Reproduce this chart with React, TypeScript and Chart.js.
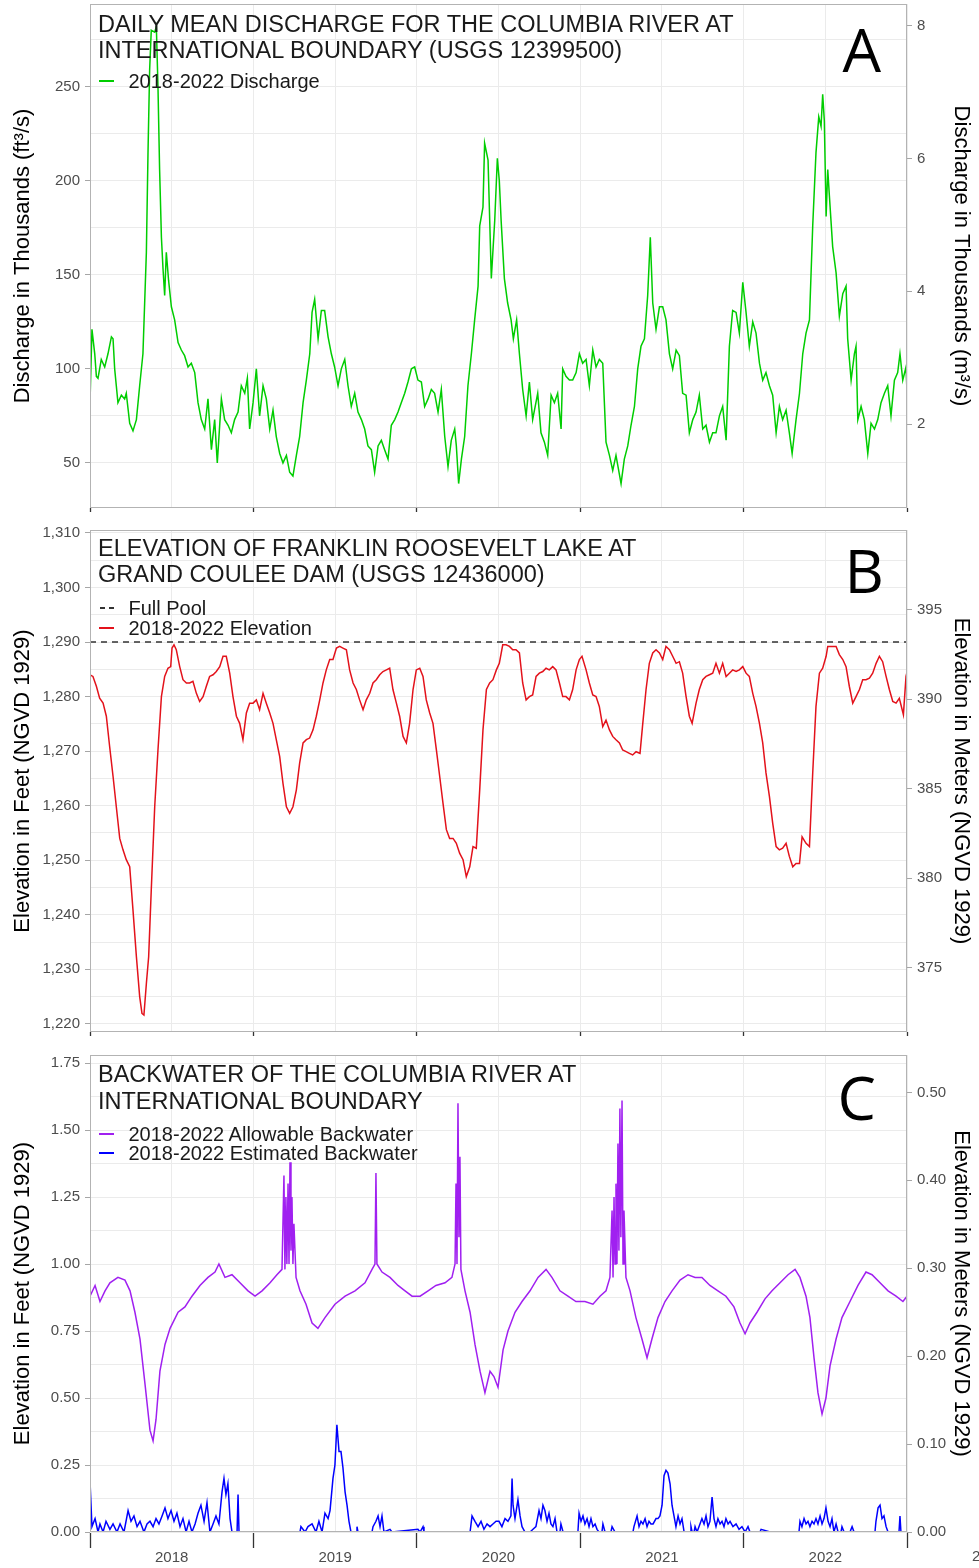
import React, { useEffect, useRef } from "react";
import { Chart, registerables } from "chart.js";

Chart.register(...registerables);

const FONT = '"Liberation Sans", Arial, Helvetica, sans-serif';
const LETTER_FONT = '"Open Sans", "Liberation Sans", Arial, sans-serif';
const TICK_COLOR = "#4d4d4d";
const GRID_COLOR = "#ebebeb";
const BORDER_COLOR = "#b3b3b3";
const AXIS_TICK_COLOR = "#a6a6a6";
const TEXT_COLOR = "#1a1a1a";

const W = 979;
const X_MIN = 2018;
const X_MAX = 2023;
const xGridValues = [2018, 2018.5, 2019, 2019.5, 2020, 2020.5, 2021, 2021.5, 2022, 2022.5, 2023];
const yearLabelPositions = [2018.5, 2019.5, 2020.5, 2021.5, 2022.5];
const yearLabels = ["2018", "2019", "2020", "2021", "2022"];
const clippedYearPosition = 2023.5;
const clippedYearLabel = "2023";

const CFS_TO_CMS = 0.0283168;
const FT_TO_M = 0.3048;

// ---------- Panel A: daily mean discharge (thousand ft3/s) ----------
const dischargeYears = [
  2018.000, 2018.012, 2018.029, 2018.039, 2018.049, 2018.069, 2018.090, 2018.110, 2018.131, 2018.141,
  2018.151, 2018.161, 2018.171, 2018.192, 2018.212, 2018.222, 2018.243, 2018.263, 2018.284, 2018.304,
  2018.324, 2018.345, 2018.355, 2018.365, 2018.375, 2018.396, 2018.406, 2018.416, 2018.426, 2018.437,
  2018.447, 2018.457, 2018.467, 2018.481, 2018.498, 2018.518, 2018.539, 2018.559, 2018.579, 2018.600,
  2018.620, 2018.641, 2018.661, 2018.681, 2018.702, 2018.722, 2018.743, 2018.763, 2018.779, 2018.804,
  2018.824, 2018.845, 2018.865, 2018.885, 2018.906, 2018.926, 2018.947, 2018.963, 2018.977, 2018.998,
  2019.018, 2019.038, 2019.059, 2019.079, 2019.100, 2019.120, 2019.140, 2019.161, 2019.181, 2019.202,
  2019.222, 2019.242, 2019.263, 2019.283, 2019.304, 2019.324, 2019.345, 2019.359, 2019.375, 2019.396,
  2019.416, 2019.436, 2019.457, 2019.477, 2019.497, 2019.518, 2019.538, 2019.559, 2019.579, 2019.599,
  2019.620, 2019.640, 2019.661, 2019.681, 2019.701, 2019.722, 2019.742, 2019.763, 2019.783, 2019.803,
  2019.824, 2019.844, 2019.865, 2019.885, 2019.905, 2019.926, 2019.946, 2019.967, 2019.987,
  2020.007, 2020.028, 2020.048, 2020.069, 2020.089, 2020.109, 2020.130, 2020.150, 2020.171, 2020.191,
  2020.211, 2020.232, 2020.242, 2020.256, 2020.273, 2020.293, 2020.313, 2020.334, 2020.354, 2020.375,
  2020.385, 2020.405, 2020.415, 2020.436, 2020.456, 2020.477, 2020.493,
  2020.505, 2020.516, 2020.536, 2020.556, 2020.577, 2020.591, 2020.611, 2020.628, 2020.648, 2020.669,
  2020.689, 2020.709, 2020.740, 2020.760, 2020.781, 2020.801, 2020.822, 2020.842, 2020.862, 2020.883,
  2020.893, 2020.913, 2020.934, 2020.954, 2020.975, 2020.995,
  2021.015, 2021.036, 2021.056, 2021.077, 2021.097, 2021.117, 2021.138, 2021.158, 2021.179, 2021.199,
  2021.219, 2021.250, 2021.270, 2021.291, 2021.311, 2021.332, 2021.352, 2021.372, 2021.393, 2021.413,
  2021.429, 2021.444, 2021.464, 2021.485, 2021.505, 2021.525, 2021.546, 2021.566, 2021.587, 2021.607,
  2021.627, 2021.648, 2021.668, 2021.689, 2021.709, 2021.729, 2021.750, 2021.770, 2021.791, 2021.811,
  2021.831, 2021.852, 2021.872, 2021.893, 2021.913, 2021.933, 2021.954, 2021.974, 2021.995,
  2022.015, 2022.035, 2022.056, 2022.076, 2022.097, 2022.117, 2022.137, 2022.158, 2022.178, 2022.199,
  2022.219, 2022.239, 2022.260, 2022.280, 2022.297, 2022.321, 2022.342, 2022.362, 2022.382, 2022.403,
  2022.423, 2022.443, 2022.460, 2022.474, 2022.484, 2022.494, 2022.505, 2022.515, 2022.525, 2022.545,
  2022.566, 2022.586, 2022.607, 2022.627, 2022.637, 2022.658, 2022.678, 2022.688, 2022.699, 2022.719,
  2022.739, 2022.760, 2022.780, 2022.801, 2022.821, 2022.841, 2022.862, 2022.882, 2022.902, 2022.923,
  2022.943, 2022.957, 2022.974, 2022.994, 2023.000,
];
const dischargeKcfs = [
  82, 121, 108, 96, 95, 105, 101, 108, 117, 116,
  100, 91, 82, 86, 84, 87, 71, 67, 73, 91,
  108, 162, 215, 259, 280, 279, 282, 250, 206, 170,
  153, 139, 162, 147, 133, 126, 114, 110, 107, 101,
  103, 98, 82, 73, 68, 84, 57, 73, 50, 84,
  73, 70, 66, 73, 77, 91, 87, 95, 68, 82,
  100, 75, 91, 84, 68, 78, 64, 55, 50, 54,
  45, 43, 54, 64, 82, 94, 108, 130, 137, 116,
  131, 131, 117, 108, 101, 91, 100, 105, 91, 80,
  87, 77, 73, 68, 59, 57, 45, 59, 62, 57,
  52, 70, 73, 77, 82, 87, 93, 100, 101,
  94, 93, 80, 84, 89, 87, 77, 89, 64, 48,
  62, 68, 59, 39, 52, 64, 91, 108, 126, 144,
  176, 186, 220, 211, 148, 179, 212,
  200, 179, 148, 135, 126, 116, 126, 108, 89, 75,
  93, 73, 87, 66, 61, 54, 86, 82, 87, 68,
  100, 96, 94, 94, 98, 108,
  103, 105, 91, 110, 101, 105, 103, 61, 54, 46,
  54, 39, 52, 59, 70, 80, 100, 112, 116, 139,
  170, 135, 121, 133, 133, 126, 108, 100, 110, 107,
  87, 86, 66, 73, 77, 86, 68, 70, 61, 66,
  66, 75, 80, 62, 112, 131, 130, 119, 146,
  130, 112, 125, 119, 103, 94, 98, 91, 86, 66,
  80, 73, 78, 66, 55, 73, 87, 108, 119, 126,
  176, 215, 234, 229, 246, 232, 181, 206, 192, 165,
  151, 128, 140, 144, 116, 94, 108, 112, 73, 80,
  73, 55, 71, 68, 73, 82, 87, 91, 75, 94,
  98, 108, 94, 101, 88,
];

// ---------- Panel B: lake elevation (ft NGVD 1929) ----------
const fullPoolFt = 1290;
const elevationYears = [
  2018.000, 2018.018, 2018.039, 2018.059, 2018.080, 2018.100, 2018.120, 2018.141, 2018.161, 2018.182,
  2018.202, 2018.222, 2018.243, 2018.263, 2018.284, 2018.304, 2018.318, 2018.330, 2018.345, 2018.359,
  2018.375, 2018.396, 2018.416, 2018.437, 2018.457, 2018.477, 2018.494, 2018.502, 2018.514, 2018.528,
  2018.549, 2018.569, 2018.590, 2018.610, 2018.630, 2018.651, 2018.671, 2018.692, 2018.712, 2018.732,
  2018.753, 2018.773, 2018.794, 2018.814, 2018.834, 2018.855, 2018.875, 2018.896, 2018.916, 2018.936,
  2018.957, 2018.977, 2018.998, 2019.018, 2019.038, 2019.059, 2019.079, 2019.100, 2019.120, 2019.140,
  2019.161, 2019.181, 2019.202, 2019.222, 2019.242, 2019.263, 2019.283, 2019.304, 2019.324, 2019.344,
  2019.365, 2019.385, 2019.406, 2019.426, 2019.446, 2019.467, 2019.487, 2019.508, 2019.528, 2019.548,
  2019.569, 2019.589, 2019.610, 2019.630, 2019.650, 2019.671, 2019.691, 2019.712, 2019.732, 2019.752,
  2019.773, 2019.793, 2019.814, 2019.834, 2019.854, 2019.875, 2019.895, 2019.916, 2019.936, 2019.956,
  2019.977, 2019.997, 2020.018, 2020.038, 2020.058, 2020.079, 2020.099, 2020.120, 2020.140, 2020.160,
  2020.181, 2020.201, 2020.222, 2020.242, 2020.262, 2020.283, 2020.303, 2020.324, 2020.344, 2020.364,
  2020.385, 2020.405, 2020.426, 2020.446, 2020.466, 2020.487,
  2020.505, 2020.526, 2020.546, 2020.567, 2020.587, 2020.607, 2020.628, 2020.648, 2020.669, 2020.689,
  2020.709, 2020.730, 2020.750, 2020.771, 2020.791, 2020.811, 2020.832, 2020.852, 2020.873, 2020.893,
  2020.913, 2020.934, 2020.954, 2020.975, 2020.995, 2021.011, 2021.036, 2021.056, 2021.077, 2021.097,
  2021.117, 2021.138, 2021.158, 2021.179, 2021.199, 2021.219, 2021.240, 2021.260, 2021.281, 2021.301,
  2021.321, 2021.342, 2021.366, 2021.383, 2021.403, 2021.423, 2021.444, 2021.464, 2021.485, 2021.505,
  2021.525, 2021.546, 2021.566, 2021.587, 2021.607, 2021.627, 2021.648, 2021.668, 2021.685, 2021.709,
  2021.729, 2021.750, 2021.770, 2021.791, 2021.811, 2021.831, 2021.852, 2021.872, 2021.893, 2021.913,
  2021.933, 2021.954, 2021.974, 2021.995, 2022.015, 2022.035, 2022.056, 2022.076, 2022.097, 2022.117,
  2022.137, 2022.158, 2022.178, 2022.199, 2022.219, 2022.239, 2022.260, 2022.280, 2022.301, 2022.321,
  2022.342, 2022.358, 2022.382, 2022.403, 2022.423, 2022.443, 2022.464, 2022.484, 2022.505, 2022.515,
  2022.535, 2022.566, 2022.586, 2022.607, 2022.627, 2022.647, 2022.668, 2022.688, 2022.709, 2022.729,
  2022.749, 2022.770, 2022.790, 2022.811, 2022.831, 2022.851, 2022.872, 2022.892, 2022.913, 2022.933,
  2022.953, 2022.978, 2022.994, 2023.000,
];
const elevationFt = [
  1284.0, 1283.7, 1281.9, 1279.7, 1278.8, 1276.4, 1270.9, 1265.4, 1259.8, 1254.0,
  1251.9, 1250.1, 1248.8, 1240.9, 1232.3, 1225.0, 1221.9, 1221.6, 1227.4, 1232.3,
  1244.6, 1259.8, 1270.2, 1280.0, 1283.7, 1285.2, 1285.5, 1288.9, 1289.5, 1288.6,
  1285.5, 1283.1, 1282.5, 1282.5, 1282.8, 1280.6, 1279.1, 1280.0, 1281.9, 1283.7,
  1284.0, 1284.6, 1285.5, 1287.4, 1287.4, 1284.3, 1280.0, 1276.4, 1275.1, 1272.1,
  1277.0, 1278.8, 1278.8, 1279.4, 1277.6, 1280.6, 1278.8, 1277.0, 1275.1, 1272.1,
  1269.0, 1264.1, 1259.8, 1258.6, 1259.8, 1262.9, 1267.8, 1271.5, 1272.1, 1272.4,
  1273.9, 1276.4, 1279.4, 1282.5, 1284.9, 1286.8, 1286.8, 1288.9, 1289.2, 1288.9,
  1288.6, 1284.9, 1282.5, 1281.3, 1279.4, 1277.6, 1279.4, 1280.6, 1282.5, 1283.1,
  1284.0, 1284.6, 1284.9, 1285.2, 1281.3, 1278.8, 1276.4, 1272.7, 1271.5, 1275.1,
  1281.3, 1284.9, 1285.2, 1283.7, 1279.4, 1277.0, 1275.1, 1270.2, 1265.4, 1260.5,
  1255.6, 1254.0, 1254.0, 1253.1, 1251.3, 1250.1, 1247.0, 1248.8, 1252.5, 1252.2,
  1262.9, 1273.9, 1281.3, 1282.5, 1283.1, 1284.9,
  1286.1, 1289.5, 1289.5, 1289.2, 1288.6, 1288.6, 1288.0, 1282.5, 1279.4, 1280.0,
  1280.3, 1283.7, 1284.3, 1284.6, 1285.2, 1284.9, 1285.5, 1284.9, 1282.5, 1280.0,
  1280.0, 1279.4, 1281.3, 1284.9, 1286.8, 1287.4, 1284.9, 1282.5, 1280.3, 1280.0,
  1278.2, 1274.5, 1275.7, 1273.9, 1272.7, 1272.1, 1271.5, 1270.2, 1269.9, 1269.6,
  1269.3, 1269.9, 1269.6, 1275.1, 1281.3, 1286.1, 1288.0, 1288.6, 1288.0, 1286.8,
  1289.2, 1288.6, 1287.4, 1286.1, 1286.4, 1284.3, 1280.0, 1276.4, 1275.1, 1278.8,
  1281.3, 1283.1, 1283.7, 1284.0, 1284.3, 1286.1, 1284.3, 1286.1, 1283.7, 1284.3,
  1284.9, 1284.6, 1284.9, 1285.5, 1284.3, 1283.7, 1280.6, 1278.2, 1275.1, 1271.5,
  1266.0, 1261.7, 1256.8, 1252.5, 1251.9, 1252.2, 1253.1, 1250.7, 1248.8, 1249.4,
  1249.4, 1254.3, 1253.1, 1252.5, 1266.0, 1278.2, 1284.3, 1285.2, 1287.4, 1289.2,
  1289.2, 1289.2, 1287.7, 1286.8, 1285.5, 1281.9, 1278.8, 1280.0, 1281.3, 1283.1,
  1283.1, 1283.4, 1284.3, 1286.1, 1287.4, 1286.4, 1283.7, 1281.3, 1279.1, 1278.8,
  1279.7, 1276.7, 1283.7, 1284.5,
];

// ---------- Panel C: backwater (ft) ----------
const allowableYears = [
  2018.000, 2018.031, 2018.061, 2018.092, 2018.122, 2018.171, 2018.214, 2018.245, 2018.275, 2018.306,
  2018.337, 2018.367, 2018.386, 2018.404, 2018.428, 2018.459, 2018.490, 2018.539, 2018.581, 2018.624,
  2018.673, 2018.722, 2018.765, 2018.789, 2018.826, 2018.869, 2018.918, 2018.967, 2019.010, 2019.053,
  2019.102, 2019.144, 2019.175, 2019.187, 2019.193, 2019.199, 2019.205, 2019.212, 2019.218, 2019.224,
  2019.230, 2019.236, 2019.242, 2019.248, 2019.261, 2019.285, 2019.322, 2019.359, 2019.395, 2019.438,
  2019.499, 2019.561, 2019.622, 2019.683, 2019.726, 2019.744, 2019.750, 2019.756, 2019.787, 2019.836,
  2019.885, 2019.928, 2019.971, 2020.020, 2020.069, 2020.117, 2020.173, 2020.215, 2020.234, 2020.240,
  2020.246, 2020.252, 2020.258, 2020.264, 2020.270, 2020.295, 2020.326, 2020.356, 2020.387, 2020.417,
  2020.448, 2020.472, 2020.497, 2020.528, 2020.558, 2020.601, 2020.644, 2020.693, 2020.742, 2020.791,
  2020.827, 2020.876, 2020.925, 2020.974, 2021.029, 2021.078, 2021.121, 2021.158, 2021.182, 2021.195,
  2021.201, 2021.207, 2021.213, 2021.219, 2021.225, 2021.231, 2021.237, 2021.243, 2021.249, 2021.256,
  2021.262, 2021.268, 2021.280, 2021.305, 2021.341, 2021.378, 2021.409, 2021.439, 2021.476, 2021.519,
  2021.562, 2021.611, 2021.660, 2021.703, 2021.745, 2021.794, 2021.843, 2021.892, 2021.941, 2021.978,
  2022.009, 2022.039, 2022.082, 2022.131, 2022.174, 2022.223, 2022.272, 2022.315, 2022.345, 2022.382,
  2022.406, 2022.431, 2022.455, 2022.480, 2022.504, 2022.529, 2022.566, 2022.602, 2022.651, 2022.700,
  2022.749, 2022.786, 2022.835, 2022.884, 2022.933, 2022.975, 2023.000,
];
const allowableFt = [
  0.88, 0.92, 0.86, 0.90, 0.93, 0.95, 0.94, 0.90, 0.82, 0.72,
  0.55, 0.38, 0.34, 0.42, 0.60, 0.70, 0.76, 0.82, 0.84, 0.88,
  0.92, 0.95, 0.97, 1.00, 0.95, 0.96, 0.93, 0.90, 0.88, 0.90,
  0.93, 0.96, 0.98, 1.33, 0.98, 1.25, 1.00, 1.30, 1.00, 1.38,
  1.05, 1.25, 1.00, 1.15, 0.95, 0.90, 0.85, 0.78, 0.76, 0.80,
  0.85, 0.88, 0.90, 0.93, 0.98, 1.00, 1.34, 1.00, 0.97, 0.95,
  0.92, 0.90, 0.88, 0.88, 0.90, 0.92, 0.93, 0.95, 1.00, 1.30,
  1.00, 1.60, 1.10, 1.40, 0.98, 0.90, 0.82, 0.70, 0.60, 0.52,
  0.60, 0.58, 0.54, 0.68, 0.75, 0.82, 0.86, 0.90, 0.95, 0.98,
  0.95, 0.90, 0.88, 0.86, 0.86, 0.85, 0.88, 0.90, 0.95, 1.20,
  0.95, 1.25, 1.00, 1.30, 1.00, 1.45, 1.05, 1.58, 1.10, 1.61,
  1.00, 1.20, 0.95, 0.90, 0.80, 0.72, 0.65, 0.72, 0.80, 0.86,
  0.90, 0.94, 0.96, 0.95, 0.95, 0.92, 0.90, 0.88, 0.84, 0.78,
  0.74, 0.78, 0.82, 0.87, 0.90, 0.93, 0.96, 0.98, 0.95, 0.88,
  0.80, 0.65, 0.52, 0.44, 0.50, 0.62, 0.72, 0.80, 0.86, 0.92,
  0.97, 0.96, 0.93, 0.90, 0.88, 0.86, 0.88,
];
const estimatedYears = [
  2018.000, 2018.012, 2018.031, 2018.049, 2018.061, 2018.080, 2018.098, 2018.122, 2018.141, 2018.165,
  2018.184, 2018.208, 2018.233, 2018.251, 2018.269, 2018.288, 2018.306, 2018.330, 2018.349, 2018.367,
  2018.386, 2018.404, 2018.422, 2018.441, 2018.459, 2018.477, 2018.496, 2018.514, 2018.532, 2018.551,
  2018.569, 2018.588, 2018.606, 2018.624, 2018.643, 2018.661, 2018.679, 2018.698, 2018.716, 2018.734,
  2018.753, 2018.771, 2018.789, 2018.808, 2018.820, 2018.832, 2018.844, 2018.857, 2018.869, 2018.900,
  2018.906, 2018.912, 2019.285, 2019.291, 2019.316, 2019.334, 2019.359, 2019.383, 2019.401, 2019.420,
  2019.438, 2019.457, 2019.469, 2019.487, 2019.499, 2019.511, 2019.524, 2019.536, 2019.548, 2019.561,
  2019.573, 2019.585, 2019.597, 2019.628, 2019.634, 2019.640, 2019.726, 2019.732, 2019.750, 2019.763,
  2019.775, 2019.787, 2019.799, 2019.836, 2019.848, 2020.007, 2020.020, 2020.038, 2020.044, 2020.326,
  2020.338, 2020.356, 2020.375, 2020.393, 2020.411, 2020.430, 2020.448, 2020.466, 2020.485, 2020.503,
  2020.521, 2020.540, 2020.558, 2020.576, 2020.583, 2020.589, 2020.601, 2020.619, 2020.632, 2020.644,
  2020.662, 2020.693, 2020.711, 2020.729, 2020.748, 2020.760, 2020.772, 2020.784, 2020.797, 2020.809,
  2020.821, 2020.833, 2020.846, 2020.858, 2020.876, 2020.882, 2020.895, 2020.986, 2020.993, 2021.005,
  2021.017, 2021.029, 2021.042, 2021.054, 2021.066, 2021.078, 2021.091, 2021.103, 2021.115, 2021.133,
  2021.139, 2021.152, 2021.188, 2021.195, 2021.213, 2021.323, 2021.329, 2021.348, 2021.360, 2021.372,
  2021.384, 2021.397, 2021.409, 2021.421, 2021.433, 2021.446, 2021.464, 2021.476, 2021.488, 2021.501,
  2021.513, 2021.525, 2021.537, 2021.550, 2021.562, 2021.574, 2021.586, 2021.599, 2021.611, 2021.623,
  2021.636, 2021.672, 2021.678, 2021.685, 2021.697, 2021.703, 2021.715, 2021.733, 2021.745, 2021.758,
  2021.770, 2021.782, 2021.794, 2021.807, 2021.819, 2021.831, 2021.843, 2021.856, 2021.868, 2021.880,
  2021.892, 2021.905, 2021.917, 2021.935, 2021.954, 2021.972, 2021.990, 2022.009, 2022.027, 2022.039,
  2022.100, 2022.107, 2022.162, 2022.339, 2022.345, 2022.357, 2022.370, 2022.382, 2022.394, 2022.406, 2022.419,
  2022.431, 2022.443, 2022.455, 2022.468, 2022.480, 2022.492, 2022.504, 2022.517, 2022.529, 2022.541,
  2022.553, 2022.566, 2022.578, 2022.596, 2022.602, 2022.615, 2022.651, 2022.664, 2022.676, 2022.804,
  2022.810, 2022.823, 2022.835, 2022.847, 2022.859, 2022.872, 2022.884, 2022.951, 2022.957, 2022.963,
  2023.000,
];
const estimatedFt = [
  0.19, 0.02, 0.05, 0, 0.03, 0, 0.04, 0.01, 0.03, 0,
  0.03, 0, 0.08, 0.04, 0.06, 0.02, 0.04, 0, 0.03, 0.04,
  0.02, 0.05, 0.03, 0.06, 0.09, 0.05, 0.08, 0.04, 0.07, 0.02,
  0.05, 0, 0.04, 0, 0.03, 0.07, 0.10, 0.04, 0.11, 0,
  0.03, 0.06, 0.03, 0.15, 0.20, 0.14, 0.18, 0.05, 0, 0,
  0.14, 0, 0, 0.02, 0, 0.02, 0.03, 0, 0.04, 0,
  0.07, 0.05, 0.08, 0.20, 0.25, 0.40, 0.30, 0.30, 0.24, 0.15,
  0.10, 0.04, 0, 0, 0.02, 0, 0, 0.02, 0.04, 0.06,
  0.02, 0.06, 0, 0.01, 0, 0.01, 0, 0.02, 0, 0,
  0.06, 0.04, 0.02, 0.04, 0.01, 0.03, 0.02, 0.03, 0.04, 0.04,
  0.02, 0.05, 0.04, 0.06, 0.20, 0.10, 0.05, 0.12, 0.06, 0.02,
  0, 0, 0.01, 0.02, 0.08, 0.05, 0.10, 0.08, 0.04, 0.07,
  0.03, 0.02, 0.05, 0, 0, 0.03, 0, 0, 0.07, 0.04,
  0.06, 0.03, 0.05, 0.02, 0.05, 0.02, 0.03, 0.01, 0, 0,
  0.03, 0, 0, 0.02, 0, 0, 0.02, 0.06, 0.02, 0.04,
  0.03, 0.05, 0.02, 0.04, 0.03, 0.03, 0.05, 0.05, 0.06, 0.10,
  0.21, 0.23, 0.22, 0.18, 0.10, 0.06, 0.02, 0.06, 0.03, 0.05,
  0, 0, 0.02, 0, 0, 0.02, 0, 0.03, 0.05, 0.03,
  0.06, 0.02, 0.04, 0.13, 0.05, 0.02, 0.05, 0.03, 0.04, 0.02,
  0.05, 0.03, 0.04, 0.02, 0.03, 0.01, 0.02, 0, 0.02, 0,
  0, 0.01, 0, 0, 0.04, 0.02, 0.05, 0.03, 0.04, 0.02, 0.04,
  0.03, 0.05, 0.03, 0.06, 0.03, 0.05, 0.09, 0.04, 0.02, 0.05,
  0, 0.03, 0, 0, 0.02, 0, 0, 0.02, 0, 0,
  0.04, 0.09, 0.10, 0.05, 0.06, 0.02, 0, 0, 0.06, 0,
  0,
];

// ---------- Axis tick values ----------
const dischargeMajor = [50, 100, 150, 200, 250];
const dischargeMinor = [75, 125, 175, 225, 275];
const dischargeCmsTicks = [2, 4, 6, 8];
const elevationMajor = [1220, 1230, 1240, 1250, 1260, 1270, 1280, 1290, 1300, 1310];
const elevationMinor = [1225, 1235, 1245, 1255, 1265, 1275, 1285, 1295, 1305];
const elevationMTicks = [375, 380, 385, 390, 395];
const backwaterMajor = [0, 0.25, 0.5, 0.75, 1.0, 1.25, 1.5, 1.75];
const backwaterMinor = [0.125, 0.375, 0.625, 0.875, 1.125, 1.375, 1.625];
const backwaterMTicks = [0, 0.1, 0.2, 0.3, 0.4, 0.5];

function pts(xs: number[], ys: number[]) {
  return xs.map((x, i) => ({ x, y: ys[i] }));
}

function noScalePadding(s: any) {
  s.paddingTop = 0;
  s.paddingBottom = 0;
  s.paddingLeft = 0;
  s.paddingRight = 0;
}

const panelBorder = {
  id: "panelBorder",
  afterDraw(chart: any) {
    const { ctx, chartArea: a } = chart;
    ctx.save();
    ctx.strokeStyle = BORDER_COLOR;
    ctx.lineWidth = 1;
    ctx.strokeRect(a.left + 0.5, a.top + 0.5, a.right - a.left - 1, a.bottom - a.top - 1);
    ctx.restore();
  },
};

const clippedYear = {
  id: "clippedYear",
  afterDraw(chart: any) {
    const xs = chart.scales.x;
    const ctx = chart.ctx;
    ctx.save();
    ctx.font = `15px ${FONT}`;
    ctx.fillStyle = TICK_COLOR;
    ctx.textAlign = "center";
    ctx.textBaseline = "top";
    ctx.fillText(clippedYearLabel, xs.getPixelForValue(clippedYearPosition), xs.top + 17);
    ctx.restore();
  },
};

function buildConfig(p: any) {
  const yTicks = [...p.yMajor, ...p.yMinor].sort((a: number, b: number) => a - b);
  const isMajor = (v: number) => p.yMajor.some((m: number) => Math.abs(m - v) < 1e-6);
  return {
    type: "line",
    data: { datasets: p.datasets },
    plugins: p.extraPlugins,
    options: {
      responsive: false,
      animation: false,
      devicePixelRatio: 1,
      events: [],
      layout: { autoPadding: false, padding: { top: p.padTop, left: 0, right: 0, bottom: 0 } },
      plugins: { legend: { display: false }, title: { display: false }, tooltip: { enabled: false } },
      elements: { point: { radius: 0 }, line: { tension: 0 } },
      scales: {
        x: {
          type: "linear",
          min: X_MIN,
          max: X_MAX,
          afterBuildTicks: (s: any) => {
            s.ticks = xGridValues.map((v) => ({ value: v }));
          },
          afterFit: (s: any) => {
            s.height = p.xHeight;
            noScalePadding(s);
          },
          border: { display: false },
          grid: {
            color: GRID_COLOR,
            lineWidth: 1,
            drawTicks: true,
            tickLength: p.xTickLen,
            tickWidth: 1.3,
            tickColor: (c: any) => (c.tick && Math.abs(c.tick.value % 1) < 1e-6 ? "#333333" : "rgba(0,0,0,0)"),
          },
          ticks: {
            display: p.showYears,
            autoSkip: false,
            maxRotation: 0,
            padding: 1,
            color: TICK_COLOR,
            font: { family: FONT, size: 15 },
            callback: (v: number) => {
              const i = yearLabelPositions.findIndex((q) => Math.abs(q - v) < 1e-6);
              return i >= 0 ? yearLabels[i] : "";
            },
          },
        },
        y: {
          type: "linear",
          position: "left",
          min: p.yMin,
          max: p.yMax,
          afterBuildTicks: (s: any) => {
            s.ticks = yTicks.map((v: number) => ({ value: v }));
          },
          afterFit: (s: any) => {
            s.width = 90;
            noScalePadding(s);
          },
          border: { display: false },
          grid: {
            color: GRID_COLOR,
            lineWidth: 1,
            tickLength: 5,
            tickWidth: 1,
            tickColor: (c: any) => (c.tick && isMajor(c.tick.value) ? AXIS_TICK_COLOR : "rgba(0,0,0,0)"),
          },
          ticks: {
            padding: 5,
            color: TICK_COLOR,
            font: { family: FONT, size: 15 },
            callback: (v: number) => (isMajor(v) ? p.yFormat(v) : ""),
          },
          title: {
            display: true,
            text: p.leftTitle,
            color: "#000000",
            font: { family: FONT, size: 22 },
            padding: { top: 10, bottom: 0 },
          },
        },
        y2: {
          type: "linear",
          position: "right",
          min: p.yMin * p.y2Factor,
          max: p.yMax * p.y2Factor,
          afterBuildTicks: (s: any) => {
            s.ticks = p.y2Ticks.map((v: number) => ({ value: v }));
          },
          afterFit: (s: any) => {
            s.width = W - 907;
            noScalePadding(s);
          },
          border: { display: false },
          grid: { drawOnChartArea: false, tickLength: 5, tickWidth: 1, tickColor: AXIS_TICK_COLOR },
          ticks: {
            padding: 5,
            color: TICK_COLOR,
            font: { family: FONT, size: 15 },
            callback: (v: number) => p.y2Format(v),
          },
          title: {
            display: true,
            text: p.rightTitle,
            color: "#000000",
            font: { family: FONT, size: 22 },
            padding: { top: 5, bottom: 0 },
          },
        },
      },
    },
  };
}

const line = (data: any, color: string, extra: any = {}) => ({
  data,
  borderColor: color,
  borderWidth: 1.5,
  pointRadius: 0,
  fill: false,
  yAxisID: "y",
  xAxisID: "x",
  ...extra,
});

function Txt(props: any) {
  const { left, top, size, children, style } = props;
  return (
    <div
      style={{
        position: "absolute",
        left,
        top,
        fontFamily: FONT,
        fontSize: size,
        lineHeight: `${size}px`,
        color: TEXT_COLOR,
        whiteSpace: "nowrap",
        ...(style || {}),
      }}
    >
      {children}
    </div>
  );
}

function Key(props: any) {
  const { left, top, width, color } = props;
  return <div style={{ position: "absolute", left, top, width, height: 2, background: color }} />;
}

function Letter(props: any) {
  const { right, top, children } = props;
  return (
    <div
      style={{
        position: "absolute",
        left: right - 100,
        width: 100,
        top,
        textAlign: "right",
        fontFamily: LETTER_FONT,
        fontSize: 61,
        lineHeight: "61px",
        color: "#000",
      }}
    >
      {children}
    </div>
  );
}

export default function App() {
  const refA = useRef<HTMLCanvasElement>(null);
  const refB = useRef<HTMLCanvasElement>(null);
  const refC = useRef<HTMLCanvasElement>(null);

  useEffect(() => {
    const cfgA = buildConfig({
      padTop: 4,
      xHeight: 12,
      xTickLen: 4,
      showYears: false,
      yMin: 26,
      yMax: 294,
      yMajor: dischargeMajor,
      yMinor: dischargeMinor,
      yFormat: (v: number) => String(v),
      y2Factor: CFS_TO_CMS,
      y2Ticks: dischargeCmsTicks,
      y2Format: (v: number) => String(v),
      leftTitle: "Discharge in Thousands (ft³/s)",
      rightTitle: "Discharge in Thousands (m³/s)",
      datasets: [line(pts(dischargeYears, dischargeKcfs), "#00cd00")],
      extraPlugins: [panelBorder],
    });
    const cfgB = buildConfig({
      padTop: 10,
      xHeight: 13,
      xTickLen: 4,
      showYears: false,
      yMin: 1218.5,
      yMax: 1310.55,
      yMajor: elevationMajor,
      yMinor: elevationMinor,
      yFormat: (v: number) => v.toLocaleString("en-US"),
      y2Factor: FT_TO_M,
      y2Ticks: elevationMTicks,
      y2Format: (v: number) => String(v),
      leftTitle: "Elevation in Feet (NGVD 1929)",
      rightTitle: "Elevation in Meters (NGVD 1929)",
      datasets: [
        line(
          [
            { x: X_MIN, y: fullPoolFt },
            { x: X_MAX, y: fullPoolFt },
          ],
          "#333333",
          { borderDash: [6, 5], borderWidth: 1.5 }
        ),
        line(pts(elevationYears, elevationFt), "#e3121b"),
      ],
      extraPlugins: [panelBorder],
    });
    const cfgC = buildConfig({
      padTop: 10,
      xHeight: 36,
      xTickLen: 16,
      showYears: true,
      yMin: 0,
      yMax: 1.78,
      yMajor: backwaterMajor,
      yMinor: backwaterMinor,
      yFormat: (v: number) => v.toFixed(2),
      y2Factor: FT_TO_M,
      y2Ticks: backwaterMTicks,
      y2Format: (v: number) => v.toFixed(2),
      leftTitle: "Elevation in Feet (NGVD 1929)",
      rightTitle: "Elevation in Meters (NGVD 1929)",
      datasets: [
        line(pts(allowableYears, allowableFt), "#a020f0"),
        line(pts(estimatedYears, estimatedFt), "#0000ff"),
      ],
      extraPlugins: [panelBorder, clippedYear],
    });
    const charts = [
      new Chart(refA.current as any, cfgA as any),
      new Chart(refB.current as any, cfgB as any),
      new Chart(refC.current as any, cfgC as any),
    ];
    return () => charts.forEach((c) => c.destroy());
  }, []);

  const canvasStyle = (top: number, h: number) => ({
    position: "absolute" as const,
    left: 0,
    top,
    width: W,
    height: h,
    display: "block",
  });

  return (
    <div style={{ position: "absolute", left: 0, top: 0, width: W, height: 1568, background: "#ffffff", overflow: "hidden" }}>
      <canvas ref={refA} width={W} height={520} style={canvasStyle(0, 520)} />
      <canvas ref={refB} width={W} height={525} style={canvasStyle(520, 525)} />
      <canvas ref={refC} width={W} height={523} style={canvasStyle(1045, 523)} />

      {/* Panel A */}
      <Txt left={98} top={13} size={23.5}>DAILY MEAN DISCHARGE FOR THE COLUMBIA RIVER AT</Txt>
      <Txt left={98} top={38.5} size={23.5}>INTERNATIONAL BOUNDARY (USGS 12399500)</Txt>
      <Key left={99} top={80} width={15} color="#00cd00" />
      <Txt left={128.5} top={71} size={20}>2018-2022 Discharge</Txt>
      <Letter right={881} top={18}>A</Letter>

      {/* Panel B */}
      <Txt left={98} top={537} size={23.5}>ELEVATION OF FRANKLIN ROOSEVELT LAKE AT</Txt>
      <Txt left={98} top={563} size={23.5}>GRAND COULEE DAM (USGS 12436000)</Txt>
      <Key left={100} top={607} width={5} color="#333333" />
      <Key left={108.5} top={607} width={5.5} color="#333333" />
      <Txt left={128.5} top={598} size={20}>Full Pool</Txt>
      <Key left={99} top={627} width={15} color="#e3121b" />
      <Txt left={128.5} top={618} size={20}>2018-2022 Elevation</Txt>
      <Letter right={884} top={539}>B</Letter>

      {/* Panel C */}
      <Txt left={98} top={1063} size={23.5}>BACKWATER OF THE COLUMBIA RIVER AT</Txt>
      <Txt left={98} top={1090} size={23.5}>INTERNATIONAL BOUNDARY</Txt>
      <Key left={99} top={1133} width={15} color="#a020f0" />
      <Txt left={128.5} top={1124} size={20}>2018-2022 Allowable Backwater</Txt>
      <Key left={99} top={1152} width={15} color="#0000ff" />
      <Txt left={128.5} top={1142.5} size={20}>2018-2022 Estimated Backwater</Txt>
      <Letter right={876} top={1066}>C</Letter>
    </div>
  );
}
